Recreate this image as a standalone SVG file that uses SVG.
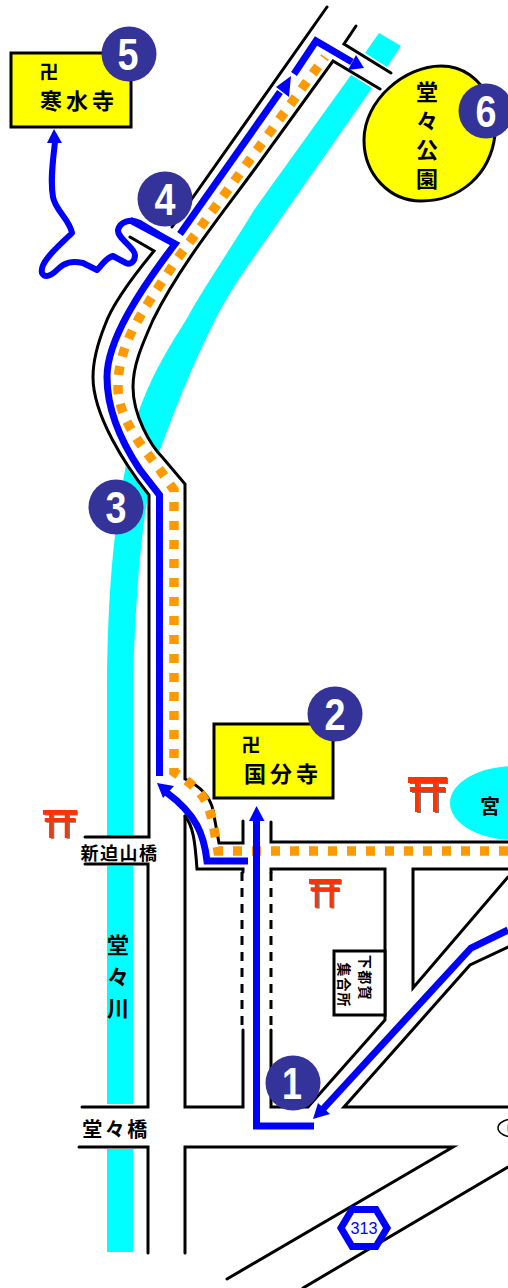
<svg xmlns="http://www.w3.org/2000/svg" width="508" height="1288" viewBox="0 0 508 1288">
<style>
.rd{fill:none;stroke:#000;stroke-width:3;stroke-linecap:round;stroke-linejoin:miter}
.dash{fill:none;stroke:#000;stroke-width:3;stroke-dasharray:9 7}
.rt{fill:none;stroke:#00f;stroke-width:7;stroke-linejoin:miter}
.rt2{fill:none;stroke:#00f;stroke-width:6;stroke-linejoin:round;stroke-linecap:round}
.ah{fill:#00f}
.or{fill:none;stroke:#f90;stroke-width:9.5;stroke-dasharray:9 10}
.num{fill:#339}
.d{font-family:"Liberation Sans",Arial,sans-serif;font-weight:700;font-size:44px;fill:#fff;text-anchor:middle}
.j{font-family:"Noto Sans CJK JP","Noto Sans CJK SC",sans-serif;font-weight:700;fill:#000;text-anchor:middle}
.box{fill:#ff0;stroke:#000;stroke-width:3}
</style>
<defs>
<g id="torii">
<path fill="#777" d="M2,1H40V7H2ZM4,11H38V16H4ZM9,7H13V36H9ZM27,7H31V36H27Z"/>
<path fill="#f30" d="M0,0H39V6H0ZM2,10H37V15H2ZM7,6H11V35H7ZM25,6H29V35H25Z"/>
</g>
</defs>
<g id="river">
<path fill="#0ff" d="M379,33L401,46L387,67L365,53Z"/>
<path fill="#0ff" d="M351,75L372,88L254,257C236,283 225,300 215,320C190,370 175,410 160,450C145,490 137,560 133,680V838H107V680C108,600 112,540 125,470C130,440 135,420 143,400C155,370 170,345 186,320C205,285 230,250 254,210Z"/>
<rect fill="#0ff" x="107" y="866" width="26" height="238"/>
<rect fill="#0ff" x="107" y="1149" width="26" height="103"/>
</g>
<g id="roads">
<path fill="#fff" d="M327,7L173,227L154,251C130,280 93,330 93,377C93,420 125,470 149,495V838H185V483L163,458C145,435 133,410 133,387C133,350 150,310 180,270L333,61L356,26Z"/>
<path class="rd" d="M327,7L172,227"/>
<path class="rd" d="M356,26L344,44L391,73"/>
<path class="rd" d="M380,89L333,61L254,170C225,210 180,265 153,320C142,345 133,365 133,387C133,415 150,445 163,458L185,484V779C200,786 210,797 213,810L219,843H243V821"/>
<path class="rd" d="M130,237L154,251C130,280 112,305 105,325C97,345 93,360 93,377C93,415 125,465 149,495V837H85"/>
<path class="rd" d="M85,864H148V1107H82"/>
<path class="rd" d="M79,1147H148V1253"/>
<path class="rd" d="M185,1253V1147H453L227,1279"/>
<path class="rd" d="M303,1288L508,1167"/>
<path class="rd" d="M185,816C193,826 195,840 197,869H243V872"/>
<path class="dash" d="M242,872V1030"/>
<path class="rd" d="M243,1030V1107H185V816"/>
<path class="rd" d="M271,822V842H508"/>
<path class="rd" d="M271,1030V1107H308L385,1020V869H271V872"/>
<path class="dash" d="M271,872V1030"/>
<path class="rd" d="M508,869H413V988L508,877"/>
<path class="rd" d="M508,947L470,965L344,1107H508"/>
</g>
<g id="connectors">
<path class="or" d="M508,851H218C214,830 212,812 205,800C198,788 186,780 174,772V490L160,470C145,450 118,420 118,387C118,345 140,315 175,262L325,57"/>
<path class="rt" d="M508,930L471,948L323,1109"/>
<path class="ah" d="M313,1119L318,1103L330,1114Z"/>
<path class="rt" d="M314,1126H256.5V820"/>
<path class="ah" d="M256.5,806L264.500,821H249Z"/>
<path class="rt" d="M248,861H207C204,835 197,815 166,792"/>
<path class="ah" d="M157,783L174,786L163,798Z"/>
<path class="rt" d="M159.500,776V495L140,470C120,440 107,410 107,377C107,340 140,290 175,244L130,220"/>
<path class="rt2" d="M175,244L140,223C130,218 120,222 118,230C117,238 135,248 135,255C135,262 130,265 126,263L113,256C105,258 100,268 97,270L83,263C72,261 65,262 58,269C52,275 45,279 42,273C39,262 60,245 72,233C70,220 55,210 53,197C50,180 53,160 55,142"/>
<path class="ah" d="M54,129L62,143H47Z"/>
<path class="rt" d="M180,234L280,92"/>
<path class="ah" d="M291,76L289,97L276,87Z"/>
<path class="rt" d="M294,74L316,41L352,62"/>
<path class="ah" d="M364,68L348,70L356,55Z"/>
</g>
<g id="n-ofuji">
<rect class="box" x="11" y="53" width="120" height="74"/>
<text class="j" x="49" y="79" font-size="19">卍</text>
<text class="j" x="79" y="109" font-size="22" letter-spacing="4">寒水寺</text>
</g>
<g id="n-kokubunji">
<rect class="box" x="214" y="724" width="119" height="74"/>
<text class="j" x="251" y="752" font-size="19">卍</text>
<text class="j" x="283" y="782" font-size="22" letter-spacing="4">国分寺</text>
</g>
<g id="n-park">
<path fill="#ff0" stroke="#000" stroke-width="3" d="M441,66C405,66 364,100 364,140C364,175 390,201 421,201C460,201 490,175 495,135C497,110 490,90 470,75C460,68 450,66 441,66Z"/>
<g font-size="22">
<text class="j" x="427" y="100">堂</text>
<text class="j" x="427" y="129">々</text>
<text class="j" x="427" y="158">公</text>
<text class="j" x="427" y="187">園</text>
</g>
</g>
<g id="n-shrine">
<ellipse cx="515" cy="803" rx="65" ry="37" fill="#0ff"/>
<text class="j" x="490" y="814" font-size="20">宮</text>
</g>
<use id="torii1" href="#torii" transform="translate(408,777)"/>
<use id="torii2" href="#torii" transform="translate(309,879) scale(.82)"/>
<use id="torii3" href="#torii" transform="translate(43,810) scale(.87,.8)"/>
<g id="n-assembly">
<rect x="334" y="951" width="51" height="64" fill="#fff" stroke="#000" stroke-width="3"/>
<text class="j" font-size="14" letter-spacing="1.500" transform="translate(360,978) rotate(90)">下都賀</text>
<text class="j" font-size="14" letter-spacing="1" transform="translate(339,985) rotate(90)">集合所</text>
</g>
<g id="labels">
<text class="j" x="119.500" y="860" font-size="18" letter-spacing="1.500">新迫山橋</text>
<text class="j" x="116" y="1137" font-size="20" letter-spacing="2.500">堂々橋</text>
<text class="j" x="118" y="953" font-size="22">堂</text>
<text class="j" x="118" y="985" font-size="22">々</text>
<text class="j" x="118" y="1016" font-size="22">川</text>
</g>
<g id="n-oval">
<ellipse cx="516" cy="1128" rx="18" ry="9.500" fill="#fff" stroke="#000" stroke-width="1.500"/>
<ellipse cx="511" cy="1128" rx="4" ry="7" fill="#3f3"/>
</g>
<g id="n-313">
<path d="M352,1209.500H376L387,1228L376,1246.500H352L341,1228Z" fill="#fff" stroke="#00f" stroke-width="7"/>
<text x="364" y="1234" font-family="Liberation Sans,sans-serif" font-size="17" fill="#00f" text-anchor="middle" textLength="27" lengthAdjust="spacingAndGlyphs">313</text>
</g>
<g id="n-1"><circle class="num" cx="293" cy="1083" r="27.500"/><text class="d" x="292" y="1099" textLength="20" lengthAdjust="spacingAndGlyphs">1</text></g>
<g id="n-2"><circle class="num" cx="335" cy="714" r="27.500"/><text class="d" x="335" y="730" textLength="21" lengthAdjust="spacingAndGlyphs">2</text></g>
<g id="n-3"><circle class="num" cx="116" cy="507" r="27.500"/><text class="d" x="116" y="523" textLength="21" lengthAdjust="spacingAndGlyphs">3</text></g>
<g id="n-4"><circle class="num" cx="165" cy="199" r="27.500"/><text class="d" x="165" y="215" textLength="21" lengthAdjust="spacingAndGlyphs">4</text></g>
<g id="n-5"><circle class="num" cx="129" cy="54" r="27.500"/><text class="d" x="128" y="70" textLength="21" lengthAdjust="spacingAndGlyphs">5</text></g>
<g id="n-6"><circle class="num" cx="486" cy="111" r="27.500"/><text class="d" x="486" y="127" textLength="21" lengthAdjust="spacingAndGlyphs">6</text></g>
</svg>
